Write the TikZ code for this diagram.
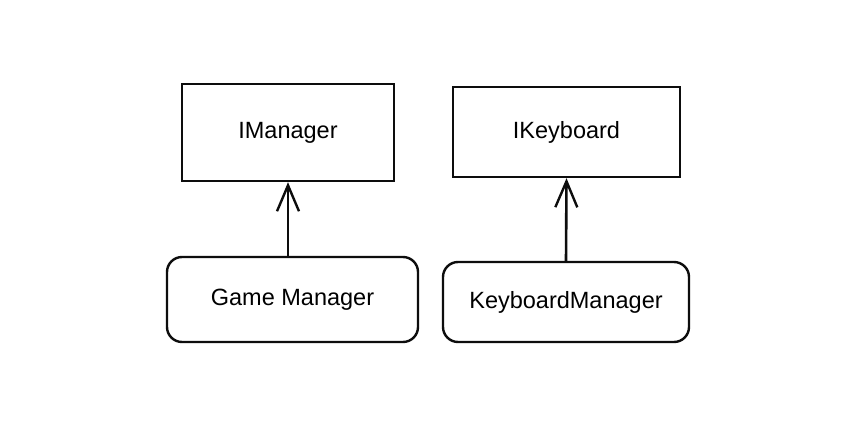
\documentclass[tikz,border=0pt]{standalone}
\usepackage{fontspec}
\setmainfont{Liberation Sans}
\usetikzlibrary{arrows.meta}
\begin{document}
\begin{tikzpicture}[x=1pt,y=-1pt,
  iface/.style={draw=black!95, line width=2.4pt, rectangle, inner sep=0pt, font=\fontsize{23.5}{27}\selectfont},
  impl/.style={draw=black!95, line width=2.4pt, rectangle, rounded corners=15pt, inner sep=0pt, font=\fontsize{23.5}{27}\selectfont},
  realize/.style={draw=black!95, line width=2.6pt, line cap=round, -{Straight Barb[length=26pt, width=22pt, line width=2.4pt]}}
]
\useasboundingbox[fill=white] (0,0) rectangle (866,422);
\node[iface, minimum width=212pt, minimum height=97pt] (im) at (288,132.5) {IManager};
\node[iface, minimum width=227pt, minimum height=90pt] (ik) at (566.5,132) {IKeyboard};
\node[impl, minimum width=251pt, minimum height=85pt] (gm) at (292.5,299.5) {Game Manager};
\node[impl, minimum width=246pt, minimum height=80pt] (km) at (566,302) {KeyboardManager};
\draw[realize] (gm.north -| im.south) -- (im.south);
\draw[realize] (km.north) -- (ik.south);
\end{tikzpicture}
\end{document}
